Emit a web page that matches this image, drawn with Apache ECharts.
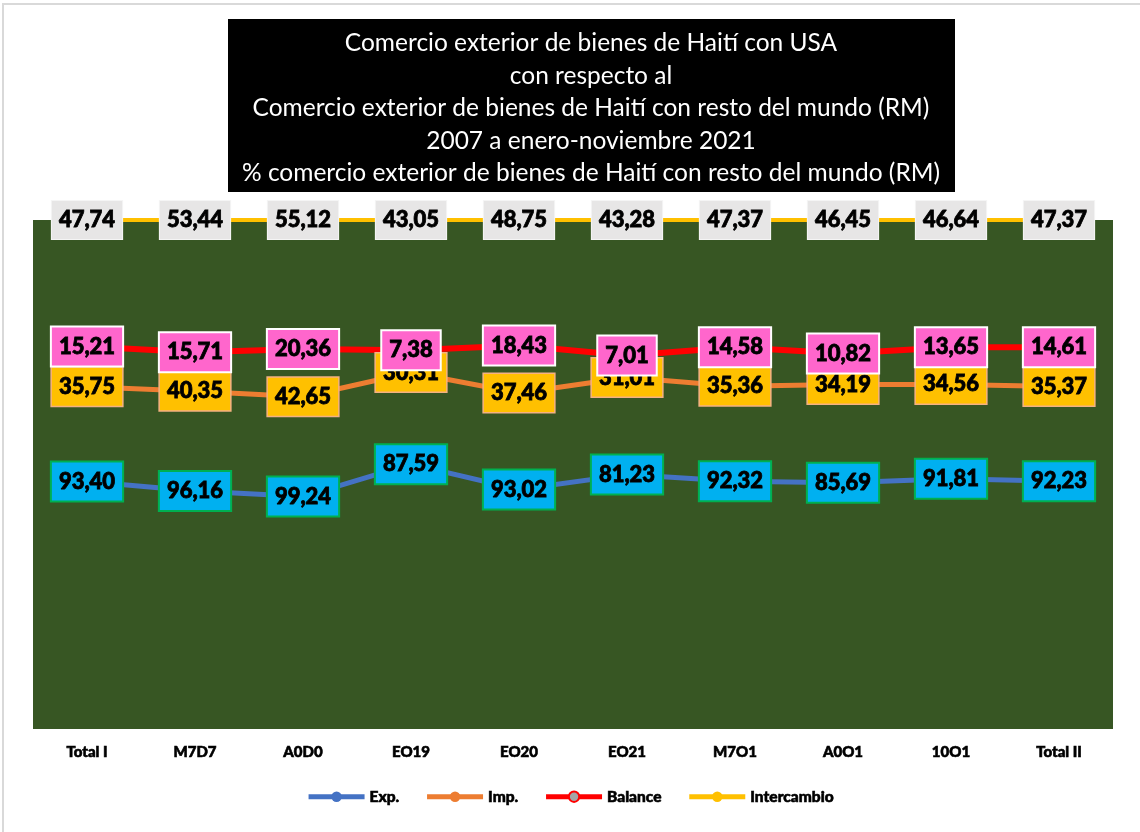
<!DOCTYPE html>
<html>
<head>
<meta charset="utf-8">
<script src="https://cdn.jsdelivr.net/npm/echarts@6/dist/echarts.min.js"></script>
<style>
html,body{margin:0;padding:0;background:#fff;}
#chart{width:1140px;height:832px;}
</style>
</head>
<body>
<div id="chart"></div>
<script>
const categories = ['Total I','M7D7','A0D0','EO19','EO20','EO21','M7O1','A0O1','10O1','Total II'];
const expValues = [93.40, 96.16, 99.24, 87.59, 93.02, 81.23, 92.32, 85.69, 91.81, 92.23];
const impValues = [35.75, 40.35, 42.65, 30.31, 37.46, 31.01, 35.36, 34.19, 34.56, 35.37];
const balanceValues = [15.21, 15.71, 20.36, 7.38, 18.43, 7.01, 14.58, 10.82, 13.65, 14.61];
const intercambioValues = [47.74, 53.44, 55.12, 43.05, 48.75, 43.28, 47.37, 46.45, 46.64, 47.37];
const titleLines = [
  'Comercio exterior de bienes de Haití con USA',
  'con respecto al',
  'Comercio exterior de bienes de Haití con resto del mundo (RM)',
  '2007 a enero-noviembre 2021',
  '% comercio exterior de bienes de Haití con resto del mundo (RM)'
];

// 100% stacked line (as in the source spreadsheet chart)
const totals = categories.map((c, i) => expValues[i] + impValues[i] + balanceValues[i] + intercambioValues[i]);
const share = arr => arr.map((v, i) => v / totals[i] * 100);
const fmt = v => v.toFixed(2).replace('.', ',');

const FONT = 'Lato';

function mkSeries(name, raw, lineColor, width, bg, border, borderW, markerColor, markerBorder) {
  return {
    name: name,
    type: 'line',
    stack: 'pct',
    data: share(raw),
    symbol: 'circle',
    symbolSize: 0.1,
    showSymbol: true,
    smooth: false,
    lineStyle: { color: lineColor, width: width },
    itemStyle: { color: markerColor || lineColor, borderColor: markerBorder || lineColor, borderWidth: markerBorder ? 2 : 0 },
    emphasis: { disabled: true },
    label: {
      show: true,
      position: 'inside',
      formatter: p => fmt(raw[p.dataIndex]),
      fontFamily: FONT,
      fontWeight: 900,
      fontSize: 22,
      color: '#000',
      textBorderColor: '#000',
      textBorderWidth: 0.8,
      backgroundColor: bg,
      borderColor: border,
      borderWidth: borderW,
      padding: [9, 7, 7, 7]
    },
    labelLayout: { hideOverlap: false }
  };
}

const chart = echarts.init(document.getElementById('chart'), null, { renderer: 'canvas' });
chart.setOption({
  backgroundColor: '#fff',
  animation: false,
  grid: {
    left: 33, right: 27, top: 220, bottom: 103,
    show: true, backgroundColor: '#375623', borderWidth: 0
  },
  xAxis: {
    type: 'category',
    data: categories,
    boundaryGap: true,
    axisLine: { show: false },
    axisTick: { show: false },
    axisLabel: { fontFamily: FONT, fontWeight: 900, fontSize: 15, color: '#000', textBorderColor: '#000', textBorderWidth: 0.6, margin: 16 }
  },
  yAxis: {
    type: 'value', min: 0, max: 100, show: false, splitLine: { show: false }
  },
  legend: {
    bottom: 22,
    left: 'center',
    itemWidth: 56,
    itemHeight: 13,
    itemGap: 25,
    lineStyle: { width: 5 },
    textStyle: { fontFamily: FONT, fontWeight: 900, fontSize: 15.5, color: '#000', textBorderColor: '#000', textBorderWidth: 0.6 },
    data: ['Exp.', 'Imp.', 'Balance', 'Intercambio']
  },
  graphic: [
    { type: 'rect', shape: { x: 3, y: 4, width: 1160, height: 860 }, style: { fill: 'none', stroke: '#d9d9d9', lineWidth: 2 }, silent: true, z: -1 },
    { type: 'rect', shape: { x: 228, y: 19, width: 727, height: 173 }, style: { fill: '#000' }, z: 10 },
    { type: 'text', z: 11,
      style: { text: titleLines.join('\n'), fill: '#fff', fontFamily: FONT, fontSize: 24.5, lineHeight: 32.5, x: 591, y: 27, textAlign: 'center', textVerticalAlign: 'top' } }
  ],
  series: [
    mkSeries('Exp.', expValues, '#4472C4', 5, '#00B0F0', '#00B050', 2),
    mkSeries('Imp.', impValues, '#ED7D31', 5, '#FFC000', '#F4B183', 1.5),
    mkSeries('Balance', balanceValues, '#FF0000', 6, '#FF66CC', '#FFFFFF', 2, '#A5A5A5', '#FF0000'),
    mkSeries('Intercambio', intercambioValues, '#FFC000', 4, '#E7E6E6', '#F5F5F5', 1)
  ]
});
</script>
</body>
</html>
